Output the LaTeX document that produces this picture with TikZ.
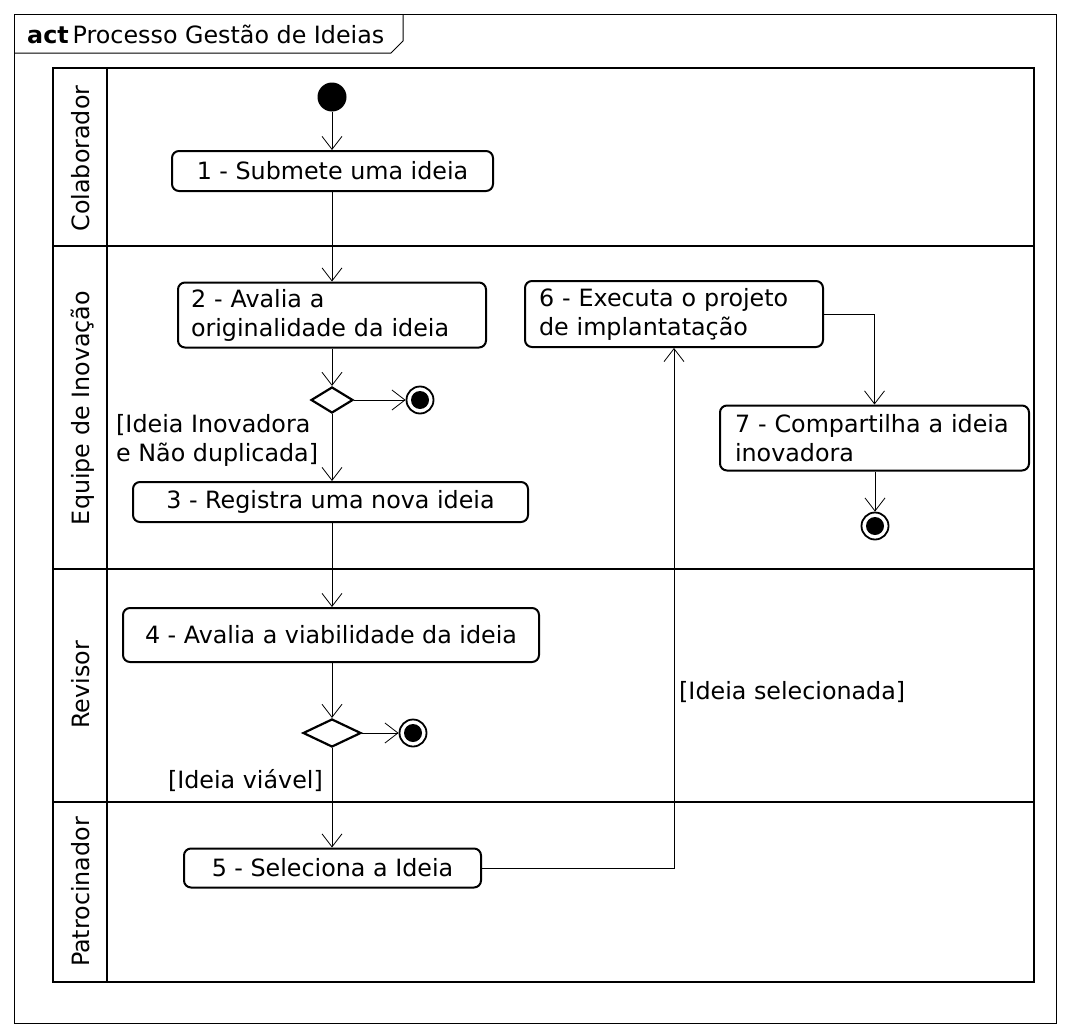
\documentclass[tikz,border=0pt]{standalone}
\usepackage{fontspec}
\setmainfont{DejaVu Sans}
\usetikzlibrary{arrows.meta,shapes.geometric}

\tikzset{
  acao/.style={draw, line width=2pt, rounded corners=7pt, inner sep=0pt},
  decisao/.style={draw, diamond, line width=2.2pt, inner sep=0pt, minimum width=42pt, minimum height=26pt},
  inicio/.style={circle, fill=black, inner sep=0pt, minimum size=29pt},
  fim/.style={circle, draw, line width=1.8pt, inner sep=0pt, minimum size=27pt,
    path picture={\fill[black] (path picture bounding box.center) circle (9pt);}},
  raia/.style={rotate=90, anchor=base, inner sep=0pt},
  guarda/.style={inner sep=0pt},
  fluxo/.style={->, line width=0.8pt}
}

\begin{document}
\begin{tikzpicture}[x=1pt,y=-1pt, font=\fontsize{23.8}{29}\selectfont,
  >={Straight Barb[length=13pt,width=20pt,line width=0.8pt]}]
\useasboundingbox (0,0) rectangle (1069,1036);
%\draw[help lines,step=50] (0,0) grid (1069,1036);

%MOLDURA
\draw[line width=1pt] (14,14) rectangle (1056,1023);
\draw[line width=1pt] (14,53) -- (391,53) -- (403,41) -- (403,14);
\node[anchor=base west, inner sep=0pt] (titulo) at (27,43) {\textbf{act}\,Processo Gestão de Ideias};

%RAIAS
\draw[line width=2.8pt] (53,68) rectangle (1034,982);
\draw[line width=2.8pt] (107,68) -- (107,982);
\foreach \y in {246,569,802}
  \draw[line width=2.8pt] (53,\y) -- (1034,\y);
\node[raia] (colaborador) at (89,158.5) {Colaborador};
\node[raia] (equipe) at (89,408) {Equipe de Inovação};
\node[raia] (revisor) at (89,685) {Revisor};
\node[raia] (patrocinador) at (89,892) {Patrocinador};

%ATIVIDADES
\node[inicio] (ini) at (332,97) {};
\node[acao, minimum width=321pt, minimum height=40pt] (a1) at (332.5,171) {1 - Submete uma ideia};
\node[acao, minimum width=308pt, minimum height=65pt, text width=282pt, align=left] (a2) at (332,315) {2 - Avalia a\\originalidade da ideia};
\node[decisao] (d1) at (332,400) {};
\node[fim] (fim1) at (420,400) {};
\node[acao, minimum width=395pt, minimum height=40pt] (a3) at (330.5,502) {3 - Registra uma nova ideia};
\node[acao, minimum width=416pt, minimum height=54pt] (a4) at (331,635) {4 - Avalia a viabilidade da ideia};
\node[decisao, minimum width=58pt, minimum height=28pt] (d2) at (332,733) {};
\node[fim] (fim2) at (413,733) {};
\node[acao, minimum width=297pt, minimum height=39pt] (a5) at (332.5,868) {5 - Seleciona a Ideia};
\node[acao, minimum width=298pt, minimum height=66pt, text width=270pt, align=left] (a6) at (674,314) {6 - Executa o projeto\\de implantatação};
\node[acao, minimum width=309pt, minimum height=65pt, text width=279pt, align=left] (a7) at (874.5,438) {7 - Compartilha a ideia\\inovadora};
\node[fim] (fim3) at (875,526) {};

%GUARDAS
\node[guarda, anchor=north west, align=left] (g1) at (116,414) {[Ideia Inovadora\\e Não duplicada]};
\node[guarda, anchor=base east] (g2) at (323,788) {[Ideia viável]};
\node[guarda, anchor=base west] (g3) at (679,699) {[Ideia selecionada]};

%FLUXOS
\draw[fluxo] (ini) -- (ini |- a1.north);
\draw[fluxo] (ini |- a1.south) -- (ini |- a2.north);
\draw[fluxo] (d1 |- a2.south) -- (d1);
\draw[fluxo] (d1) -- (fim1);
\draw[fluxo] (d1) -- (d1 |- a3.north);
\draw[fluxo] (d1 |- a3.south) -- (d1 |- a4.north);
\draw[fluxo] (d2 |- a4.south) -- (d2);
\draw[fluxo] (d2) -- (fim2);
\draw[fluxo] (d2) -- (d2 |- a5.north);
\draw[fluxo] (a5.east) -| (a6.south);
\draw[fluxo] (a6.east) -| (a7.north);
\draw[fluxo] (a7.south -| fim3) -- (fim3);

\end{tikzpicture}
\end{document}
